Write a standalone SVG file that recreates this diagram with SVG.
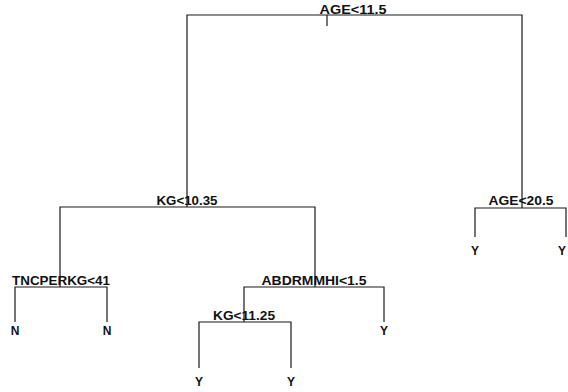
<svg xmlns="http://www.w3.org/2000/svg" width="568" height="392" viewBox="0 0 568 392">
<style>
.e{stroke:#1a1a1a;stroke-width:1.2;fill:none}
.s{font-family:"Liberation Sans",Arial,sans-serif;font-weight:bold;font-size:13px;fill:#111;text-anchor:middle}
.l{font-family:"Liberation Sans",Arial,sans-serif;font-weight:bold;font-size:12px;fill:#111;text-anchor:middle}
</style>
<rect width="568" height="392" fill="#fff"/>
<g id="connectors">
<path class="e" d="M327,15V26"/>
<path class="e" d="M187,207V15H522V208"/>
<path class="e" d="M60,287V207H315V287"/>
<path class="e" d="M15,322V287H107V322"/>
<path class="e" d="M244,322V287H384V322"/>
<path class="e" d="M199,368V322H291V368"/>
<path class="e" d="M475,237V208H566V237"/>
</g>
<g id="n_root"><text class="s" x="353" y="14" textLength="67" lengthAdjust="spacingAndGlyphs">AGE&lt;11.5</text></g>
<g id="n_kg1035"><text class="s" x="187" y="205" textLength="61" lengthAdjust="spacingAndGlyphs">KG&lt;10.35</text></g>
<g id="n_age205"><text class="s" x="521" y="205" textLength="65" lengthAdjust="spacingAndGlyphs">AGE&lt;20.5</text></g>
<g id="n_tnc"><text class="s" x="61" y="285" textLength="98" lengthAdjust="spacingAndGlyphs">TNCPERKG&lt;41</text></g>
<g id="n_abd"><text class="s" x="314" y="285" textLength="105" lengthAdjust="spacingAndGlyphs">ABDRMMHI&lt;1.5</text></g>
<g id="n_kg1125"><text class="s" x="244" y="320" textLength="62" lengthAdjust="spacingAndGlyphs">KG&lt;11.25</text></g>
<g id="leaf_n1"><text class="l" x="15" y="335">N</text></g>
<g id="leaf_n2"><text class="l" x="107" y="335">N</text></g>
<g id="leaf_y1"><text class="l" x="199" y="386">Y</text></g>
<g id="leaf_y2"><text class="l" x="291" y="386">Y</text></g>
<g id="leaf_y3"><text class="l" x="384" y="335">Y</text></g>
<g id="leaf_y4"><text class="l" x="475" y="255">Y</text></g>
<g id="leaf_y5"><text class="l" x="562" y="255">Y</text></g>
</svg>
